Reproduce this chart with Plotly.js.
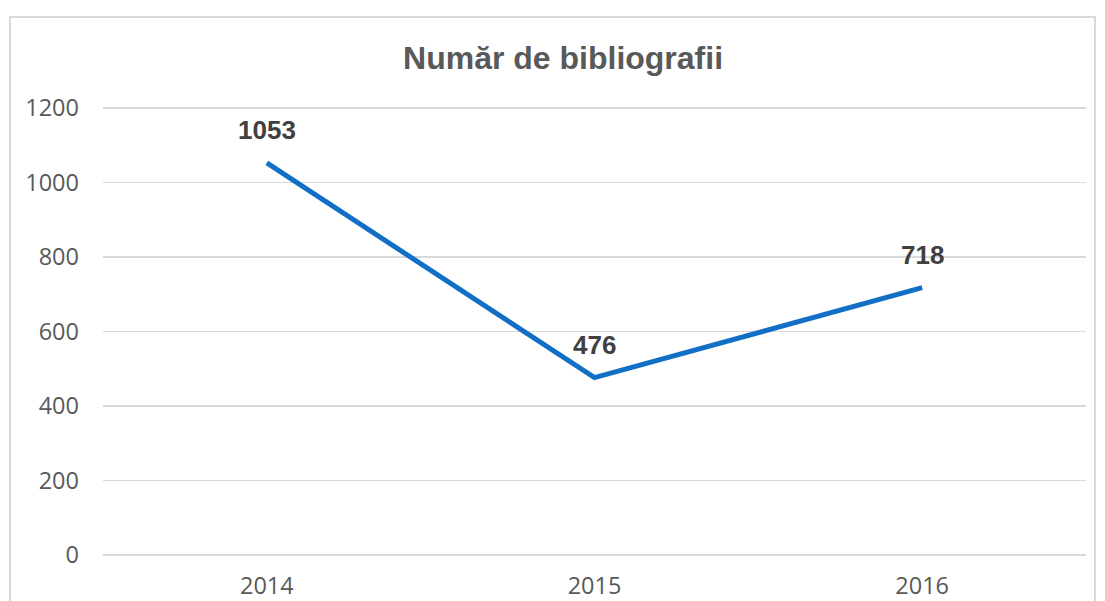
<!DOCTYPE html>
<html>
<head>
<meta charset="utf-8">
<script src="https://cdn.plot.ly/plotly-3.0.1.min.js"></script>
<style>
  body { margin: 0; background: #fff; overflow: hidden; }
  #chart { position: absolute; left: 9px; top: 16px; width: 1083px; height: 620px; border: 2px solid #d9d9d9; }
</style>
</head>
<body>
<div id="chart"></div>
<script>
const years = ['2014', '2015', '2016']
const counts = [1053, 476, 718]
const yTicks = [0, 200, 400, 600, 800, 1000, 1200]

var trace = {
  x: years,
  y: counts,
  type: 'scatter',
  mode: 'lines',
  line: { color: '#1170c6', width: 5 },
  hoverinfo: 'skip'
}

// value labels above each point (x as category index)
var labels = counts.map((v, i) => ({
  x: i,
  y: v,
  xref: 'x',
  yref: 'y',
  text: '<b>' + v + '</b>',
  showarrow: false,
  yshift: 33,
  yanchor: 'middle',
  font: { family: 'Liberation Sans, Arial, sans-serif', size: 26, color: '#404040' }
}))

var layout = {
  width: 1083,
  height: 620,
  margin: { l: 92, r: 8, t: 87.8, b: 80.7 },
  paper_bgcolor: '#fff',
  plot_bgcolor: '#fff',
  showlegend: false,
  annotations: labels,
  title: {
    text: '<b>Număr de bibliografii</b>',
    font: { family: 'Liberation Sans, Arial, sans-serif', size: 32, color: '#595959' },
    xref: 'paper', x: 0.468, xanchor: 'center',
    yref: 'container', y: 1 - 40 / 620, yanchor: 'middle'
  },
  font: { family: 'Open Sans, sans-serif', color: '#595959' },
  xaxis: {
    type: 'category',
    range: [-0.5, 2.5],
    showgrid: false,
    zeroline: false,
    showline: false,
    ticks: '',
    tickfont: { size: 23.5, color: '#595959' },
    ticklabelstandoff: 12
  },
  yaxis: {
    range: [-6, 1206],
    tickvals: yTicks,
    ticktext: yTicks.map(String),
    showgrid: true,
    gridcolor: '#d9d9d9',
    gridwidth: 1.5,
    zeroline: false,
    showline: false,
    ticks: '',
    tickfont: { size: 23.5, color: '#595959' },
    ticklabelstandoff: 23
  }
}

Plotly.newPlot('chart', [trace], layout, { displayModeBar: false, staticPlot: true })
</script>
</body>
</html>
